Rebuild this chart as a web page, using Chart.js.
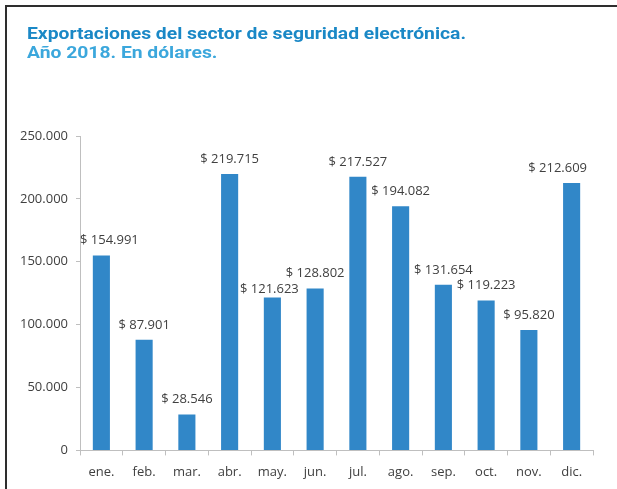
<!DOCTYPE html>
<html>
<head>
<meta charset="utf-8">
<script src="https://cdn.jsdelivr.net/npm/chart.js@4.4.0/dist/chart.umd.min.js"></script>
<style>
    html, body { margin: 0; padding: 0; background: #fff; }
    #frame {
        position: absolute;
        left: 5px; top: 5px;
        width: 612px; height: 484px;
        border-top: 2px solid #2e2e2e;
        border-left: 2px solid #2e2e2e;
    }
    #frame canvas { display: block; }
    .chart-title {
        position: absolute;
        left: 20px;
        font-family: Roboto, sans-serif;
        font-weight: bold;
        font-size: 16.5px;
        line-height: 19px;
        white-space: nowrap;
        transform: scaleX(1.17);
        transform-origin: left center;
    }
    #title1 { top: 17px; color: #1a88c6; }
    #title2 { top: 36px; color: #3ba7dc; }
</style>
</head>
<body>
<div id="frame">
    <canvas id="exportChart" width="610" height="482"></canvas>
    <div class="chart-title" id="title1">Exportaciones del sector de seguridad electrónica.</div>
    <div class="chart-title" id="title2">Año 2018. En dólares.</div>
</div>
<script>
// Exportaciones del sector de seguridad electrónica, 2018
const months = ['ene.', 'feb.', 'mar.', 'abr.', 'may.', 'jun.', 'jul.', 'ago.', 'sep.', 'oct.', 'nov.', 'dic.'];
const exportValues = [154991, 87901, 28546, 219715, 121623, 128802, 217527, 194082, 131654, 119223, 95820, 212609];
const yTickValues = [0, 50000, 100000, 150000, 200000, 250000];

const labelFont = '13px "Open Sans"';

// 1234567 -> 1.234.567
function formatNumber(n) {
    return String(n).replace(/\B(?=(\d{3})+(?!\d))/g, '.');
}

// Draw "$ xxx.xxx" above each bar
const valueLabels = {
    id: 'valueLabels',
    afterDatasetsDraw(chart, args, opts) {
        const ctx = chart.ctx;
        const meta = chart.getDatasetMeta(0);
        ctx.save();
        ctx.font = labelFont;
        ctx.fillStyle = '#404040';
        ctx.textAlign = 'center';
        ctx.textBaseline = 'middle';
        meta.data.forEach((bar, i) => {
            const nudge = opts.nudges[i] || [0, 0];
            const value = chart.data.datasets[0].data[i];
            ctx.fillText('$ ' + formatNumber(value), bar.x + nudge[0], bar.y - 15 + nudge[1]);
        });
        ctx.restore();
    }
};

const ctx = document.getElementById('exportChart').getContext('2d');

const chart = new Chart(ctx, {
    type: 'bar',
    data: {
        labels: months,
        datasets: [{
            data: exportValues,
            backgroundColor: '#3187c8',
            borderWidth: 0,
            barPercentage: 0.4,
            categoryPercentage: 1
        }]
    },
    plugins: [valueLabels],
    options: {
        responsive: false,
        animation: false,
        layout: {
            padding: { left: 6, right: 24, top: 129, bottom: 0 }
        },
        scales: {
            x: {
                grid: {
                    display: true,
                    offset: true,
                    drawOnChartArea: false,
                    tickLength: 5,
                    color: '#bfbfbf'
                },
                border: { color: '#bfbfbf' },
                ticks: {
                    color: '#404040',
                    font: { family: 'Open Sans', size: 13 },
                    padding: 9
                }
            },
            y: {
                min: 0,
                max: 250000,
                afterBuildTicks: (scale) => {
                    scale.ticks = yTickValues.map(v => ({ value: v }));
                },
                afterFit: (scale) => {
                    scale.width = 67;
                },
                grid: {
                    display: true,
                    drawOnChartArea: false,
                    tickLength: 4,
                    color: '#bfbfbf'
                },
                border: { color: '#bfbfbf' },
                ticks: {
                    color: '#404040',
                    font: { family: 'Open Sans', size: 13 },
                    padding: 8,
                    callback: (v) => formatNumber(v)
                }
            }
        },
        plugins: {
            legend: { display: false },
            tooltip: { enabled: false },
            valueLabels: {
                // small label shifts [x, y] where the source moved them aside
                nudges: { 0: [8, 0], 4: [-3, 7], 11: [-14, 0] }
            }
        }
    }
});
</script>
</body>
</html>
